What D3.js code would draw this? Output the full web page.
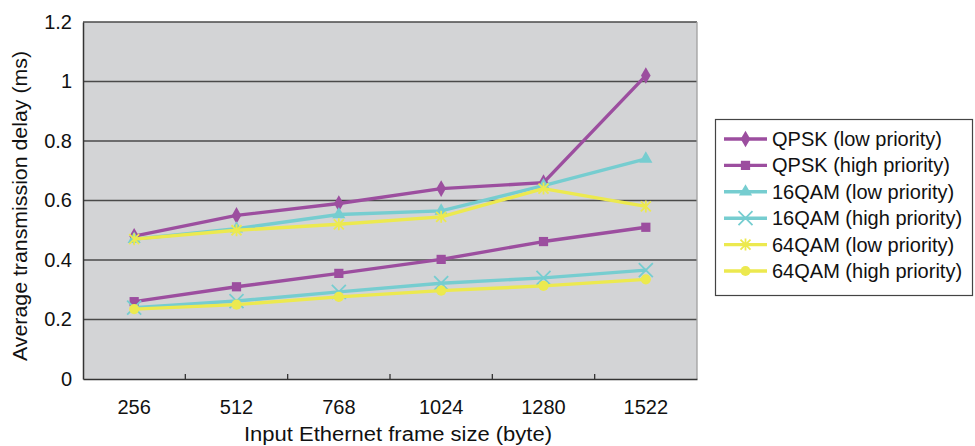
<!DOCTYPE html>
<html>
<head>
<meta charset="utf-8">
<script src="https://cdn.jsdelivr.net/npm/d3@7"></script>
<style>
  html, body { margin: 0; padding: 0; background: #fff; }
  svg { display: block; }
  text { font-family: "Liberation Sans", Arial, Helvetica, sans-serif; fill: #111; }
</style>
</head>
<body>
<svg id="chart" width="975" height="446"></svg>
<script>
// ---- data ----
const categories = ["256", "512", "768", "1024", "1280", "1522"];
const yTicks = [0, 0.2, 0.4, 0.6, 0.8, 1, 1.2];
const seriesNames = [
  "QPSK (low priority)", "QPSK (high priority)",
  "16QAM (low priority)", "16QAM (high priority)",
  "64QAM (low priority)", "64QAM (high priority)"
];
const qpskLow   = [0.48, 0.55, 0.59, 0.64, 0.66, 1.02];
const qpskHigh  = [0.26, 0.31, 0.355, 0.402, 0.462, 0.51];
const qam16Low  = [0.47, 0.505, 0.553, 0.565, 0.65, 0.74];
const qam16High = [0.24, 0.262, 0.293, 0.322, 0.34, 0.366];
const qam64Low  = [0.47, 0.50, 0.52, 0.545, 0.64, 0.58];
const qam64High = [0.235, 0.25, 0.276, 0.297, 0.313, 0.335];
const seriesValues = [qpskLow, qpskHigh, qam16Low, qam16High, qam64Low, qam64High];

// ---- styles ----
const purple = "#9c4e9f", cyan = "#76cdd0", yellow = "#ece94f";
const colors = [purple, purple, cyan, cyan, yellow, yellow];
const markers = ["diamond", "square", "triangle", "x", "star", "circle"];

const svg = d3.select("#chart");
const pLeft = 83, pRight = 697, pTop = 22, pBottom = 379;

const x = d3.scaleBand().domain(categories).range([pLeft, pRight]).paddingInner(0).paddingOuter(0);
const y = d3.scaleLinear().domain([0, 1.2]).range([pBottom, pTop]);

// plot background
svg.append("rect").attr("x", pLeft).attr("y", pTop)
  .attr("width", pRight - pLeft).attr("height", pBottom - pTop)
  .attr("fill", "#d3d4d6");

// gridlines
svg.append("g").selectAll("line").data(yTicks.filter(d => d > 0)).join("line")
  .attr("x1", pLeft).attr("x2", pRight)
  .attr("y1", d => y(d)).attr("y2", d => y(d))
  .attr("stroke", "#4a4a4a").attr("stroke-width", 1.3);

// right border
svg.append("line").attr("x1", pRight).attr("x2", pRight).attr("y1", pTop).attr("y2", pBottom)
  .attr("stroke", "#a0a0a0").attr("stroke-width", 1.3);

// y axis
const yAxis = d3.axisLeft(y).tickValues(yTicks).tickFormat(d3.format("~g")).tickSize(0).tickPadding(11);
const gy = svg.append("g").attr("transform", `translate(${pLeft},0)`).call(yAxis);
gy.select(".domain").attr("stroke", "#333").attr("stroke-width", 1.5);
gy.selectAll("text").attr("font-size", 20).style("font-family", "Liberation Sans, Arial, sans-serif").attr("fill", "#111");

// x axis
const xAxis = d3.axisBottom(x).tickSize(0).tickPadding(21);
const gx = svg.append("g").attr("transform", `translate(0,${pBottom})`).call(xAxis);
gx.select(".domain").attr("stroke", "#333").attr("stroke-width", 1.5);
gx.selectAll("text").attr("font-size", 20).style("font-family", "Liberation Sans, Arial, sans-serif").attr("fill", "#111");
// inner tick marks at category boundaries
const bounds = categories.slice(1).map(c => x(c));
svg.append("g").selectAll("line").data(bounds).join("line")
  .attr("x1", d => d).attr("x2", d => d)
  .attr("y1", pBottom).attr("y2", pBottom - 5)
  .attr("stroke", "#333").attr("stroke-width", 1.3);

// axis titles
svg.append("text").attr("x", 398).attr("y", 441)
  .attr("text-anchor", "middle").attr("font-size", 20)
  .attr("textLength", 308).attr("lengthAdjust", "spacingAndGlyphs")
  .text("Input Ethernet frame size (byte)");
svg.append("text").attr("transform", `translate(27,206) rotate(-90)`)
  .attr("text-anchor", "middle").attr("font-size", 20)
  .attr("textLength", 310).attr("lengthAdjust", "spacingAndGlyphs")
  .text("Average transmission delay (ms)");

// marker drawing
function drawMarker(g, type, color) {
  if (type === "diamond") {
    g.append("path").attr("d", d3.symbol(d3.symbolDiamond, 80)()).attr("fill", color);
  } else if (type === "square") {
    g.append("path").attr("d", d3.symbol(d3.symbolSquare, 85)()).attr("fill", color);
  } else if (type === "triangle") {
    g.append("path").attr("d", d3.symbol(d3.symbolTriangle, 75)()).attr("fill", color);
  } else if (type === "circle") {
    g.append("path").attr("d", d3.symbol(d3.symbolCircle, 80)()).attr("fill", color);
  } else if (type === "x") {
    const s = 7;
    g.append("path").attr("d", `M${-s},${-s}L${s},${s}M${-s},${s}L${s},${-s}`)
      .attr("stroke", color).attr("stroke-width", 1.8).attr("fill", "none");
  } else if (type === "star") {
    const s = 5;
    g.append("path").attr("d", `M${-s},${-s}L${s},${s}M${-s},${s}L${s},${-s}M0,${-s - 1}L0,${s + 1}`)
      .attr("stroke", color).attr("stroke-width", 1.8).attr("fill", "none");
  }
}

const line = d3.line().x((d, i) => x(categories[i]) + x.bandwidth() / 2).y(d => y(d));

seriesValues.forEach((vals, si) => {
  const g = svg.append("g");
  g.append("path").datum(vals).attr("d", line)
    .attr("fill", "none").attr("stroke", colors[si]).attr("stroke-width", 3.4)
    .attr("stroke-linejoin", "round");
  vals.forEach((v, i) => {
    const mg = g.append("g").attr("transform",
      `translate(${x(categories[i]) + x.bandwidth() / 2},${y(v)})`);
    drawMarker(mg, markers[si], colors[si]);
  });
});

// legend
const lg = svg.append("g");
lg.append("rect").attr("x", 715.5).attr("y", 119.5).attr("width", 257).attr("height", 176)
  .attr("fill", "#fff").attr("stroke", "#444").attr("stroke-width", 1.2);
seriesNames.forEach((name, i) => {
  const ly = 139 + i * 26.4;
  const e = lg.append("g");
  e.append("line").attr("x1", 724).attr("x2", 767).attr("y1", ly).attr("y2", ly)
    .attr("stroke", colors[i]).attr("stroke-width", 3.4);
  const mg = e.append("g").attr("transform", `translate(745.5,${ly})`);
  drawMarker(mg, markers[i], colors[i]);
  e.append("text").attr("x", 772).attr("y", ly).attr("dy", "0.35em")
    .attr("font-size", 20).text(name);
});
</script>
</body>
</html>
